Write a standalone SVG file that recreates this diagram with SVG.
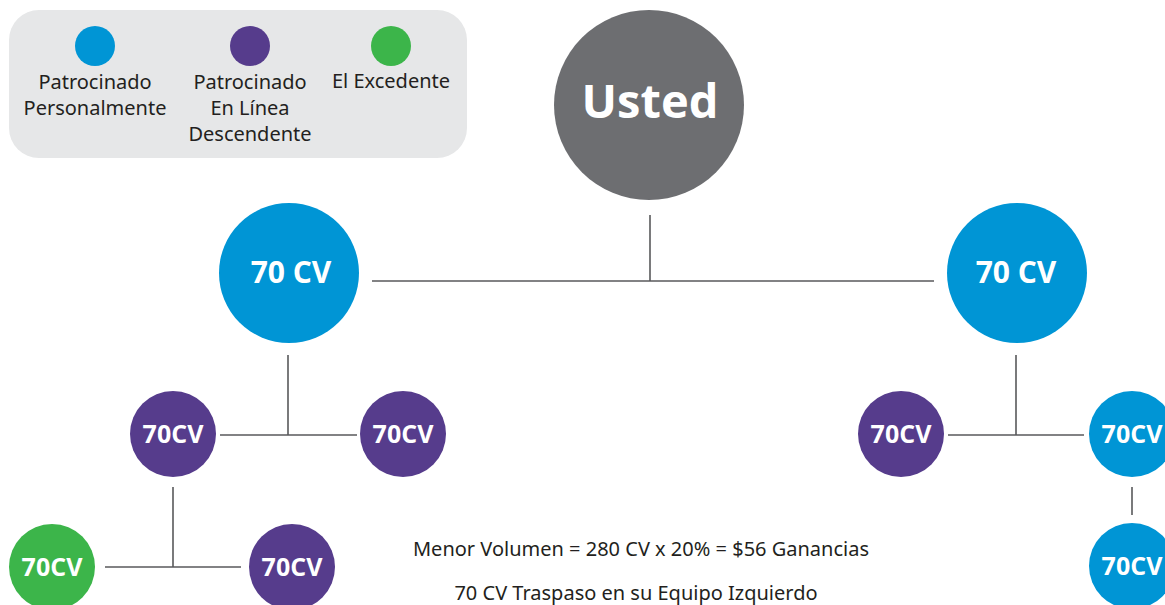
<svg xmlns="http://www.w3.org/2000/svg" width="1165" height="605" viewBox="0 0 1165 605">
<style>
.txt{font-family:"Noto Sans","Open Sans","Liberation Sans",sans-serif;fill:#231f20;font-size:20px;text-anchor:middle}
.lbl{font-family:"Open Sans","Noto Sans","Liberation Sans",sans-serif;fill:#ffffff;font-weight:bold;text-anchor:middle}
.big{font-size:30px}
.sm{font-size:25px}
.blue{fill:#0095d5}
.purple{fill:#563c8c}
.green{fill:#3cb54a}
.gray{fill:#6d6e71}
.conn line{stroke:#58595b;stroke-width:1.6}
</style>
<rect width="1165" height="605" fill="#ffffff"/>
<g id="legend">
<rect x="9" y="10" width="458" height="148" rx="30" fill="#e6e7e8"/>
<circle cx="95" cy="46" r="20" class="blue"/>
<circle cx="250" cy="46" r="20" class="purple"/>
<circle cx="391" cy="46" r="20" class="green"/>
<text class="txt" x="95" y="89">Patrocinado</text>
<text class="txt" x="95" y="115">Personalmente</text>
<text class="txt" x="250" y="89">Patrocinado</text>
<text class="txt" x="250" y="115">En Línea</text>
<text class="txt" x="250" y="141">Descendente</text>
<text class="txt" x="391" y="88">El Excedente</text>
</g>
<g class="conn" id="connectors">
<line x1="650" y1="215" x2="650" y2="281"/>
<line x1="372" y1="281" x2="934" y2="281"/>
<line x1="288" y1="355" x2="288" y2="435"/>
<line x1="220" y1="435" x2="357" y2="435"/>
<line x1="173" y1="487" x2="173" y2="567"/>
<line x1="105" y1="567" x2="241" y2="567"/>
<line x1="1016" y1="355" x2="1016" y2="435"/>
<line x1="948" y1="435" x2="1084" y2="435"/>
<line x1="1132" y1="487" x2="1132" y2="515"/>
</g>
<g id="usted">
<circle cx="649" cy="105" r="95" class="gray"/>
<text class="lbl" x="650" y="118" font-size="47">Usted</text>
</g>
<g id="left-main">
<circle cx="289" cy="273" r="70" class="blue"/>
<text class="lbl big" x="291" y="283">70 CV</text>
</g>
<g id="right-main">
<circle cx="1017" cy="273" r="70" class="blue"/>
<text class="lbl big" x="1016" y="283">70 CV</text>
</g>
<g id="left-a">
<circle cx="173" cy="434" r="43" class="purple"/>
<text class="lbl sm" x="173" y="443">70CV</text>
</g>
<g id="left-b">
<circle cx="403" cy="434" r="43" class="purple"/>
<text class="lbl sm" x="403" y="443">70CV</text>
</g>
<g id="left-a1">
<circle cx="52" cy="567" r="43" class="green"/>
<text class="lbl sm" x="52" y="576">70CV</text>
</g>
<g id="left-a2">
<circle cx="292" cy="567" r="43" class="purple"/>
<text class="lbl sm" x="292" y="576">70CV</text>
</g>
<g id="right-a">
<circle cx="901" cy="434" r="43" class="purple"/>
<text class="lbl sm" x="901" y="443">70CV</text>
</g>
<g id="right-b">
<circle cx="1132" cy="434" r="43" class="blue"/>
<text class="lbl sm" x="1132" y="443">70CV</text>
</g>
<g id="right-b1">
<circle cx="1132" cy="566" r="43" class="blue"/>
<text class="lbl sm" x="1132" y="575">70CV</text>
</g>
<g id="notes">
<text class="txt" x="641" y="556" font-size="19.7">Menor Volumen = 280 CV x 20% = $56 Ganancias</text>
<text class="txt" x="636" y="600" font-size="18.5">70 CV Traspaso en su Equipo Izquierdo</text>
</g>
</svg>
